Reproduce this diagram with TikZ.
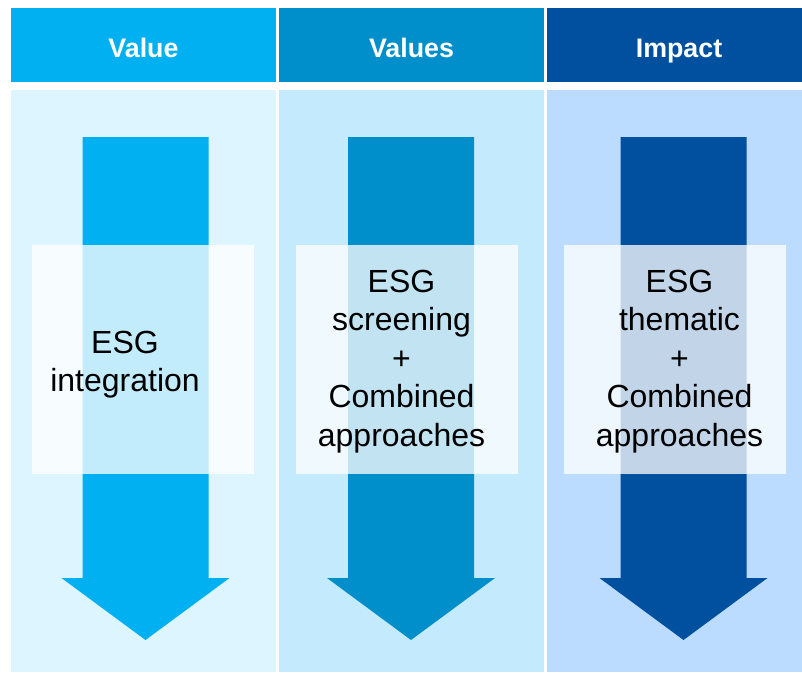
\documentclass[tikz,border=0pt]{standalone}
\usepackage{fontspec}
\setmainfont{Liberation Sans}
\usetikzlibrary{positioning}

\definecolor{head1}{HTML}{00B0F0}
\definecolor{head2}{HTML}{008FCB}
\definecolor{head3}{HTML}{0050A0}
\definecolor{back1}{HTML}{DDF5FF}
\definecolor{back2}{HTML}{C3EBFD}
\definecolor{back3}{HTML}{BBDCFE}

\begin{document}
\begin{tikzpicture}[x=1pt, y=-1pt,
  header/.style={font=\fontsize{26.8}{32}\selectfont\bfseries, text=white, anchor=base, inner sep=0pt},
  approach/.style={font=\fontsize{32}{38.4}\selectfont, align=center, inner sep=0pt, text=black}]

\useasboundingbox (0,0) rectangle (802,672);
\fill[white] (0,0) rectangle (802,672);

% ------------------------------------------------------------------
% COLUMNS: background, header band, arrow, translucent label box
% ------------------------------------------------------------------
\foreach \xl/\xr/\title/\tx/\ax/\bl [count=\i] in
  {11/276/Value/143.5/145.5/32, 279/544/Values/411.5/411/296, 547/802/Impact/679/683.5/564} {
  \fill[back\i] (\xl,90) rectangle (\xr,672);
  \fill[head\i] (\xl,8.3) rectangle (\xr,81.7);
  \node[header] (hdr\i) at (\tx,57.3) {\title};
  % down arrow
  \fill[head\i] (\ax-63,137) -- (\ax+63,137) -- (\ax+63,578) -- (\ax+84,578)
    -- (\ax,640) -- (\ax-84,578) -- (\ax-63,578) -- cycle;
  % label box
  \fill[white, opacity=0.76] (\bl,245) rectangle (\bl+222,473.7);
}

% ------------------------------------------------------------------
% LABELS
% ------------------------------------------------------------------
\node[approach] (esg1) at (125,364.5) {ESG\\integration};
\node[approach] (esg2) at (401.5,361.5) {ESG\\screening\\+\\Combined\\approaches};
\node[approach] (esg3) at (679.5,361.5) {ESG\\thematic\\+\\Combined\\approaches};

\end{tikzpicture}
\end{document}
